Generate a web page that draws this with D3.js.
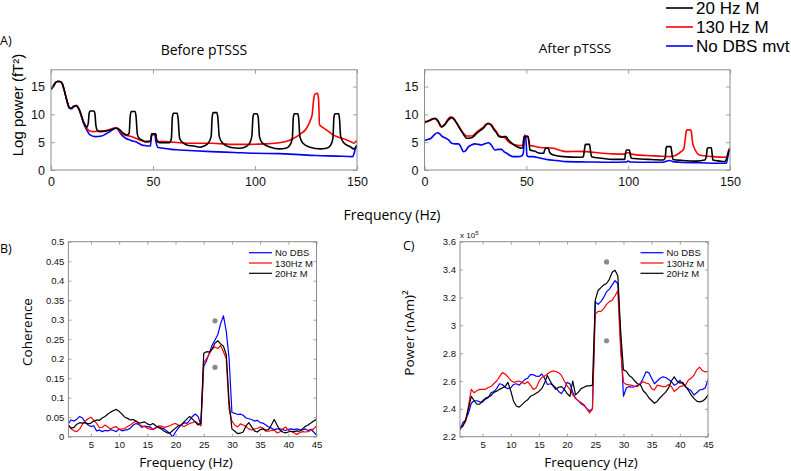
<!DOCTYPE html>
<html><head><meta charset="utf-8">
<script src="https://cdn.jsdelivr.net/npm/d3@7"></script>
<style>body{margin:0;background:#fff}svg{display:block}</style>
</head><body><svg id="c" width="791" height="471"></svg>
<script>
// ---------- DATA ----------
const seriesA = ["20 Hz M", "130 Hz M", "No DBS mvt"];
const seriesBC = ["No DBS", "130Hz M", "20Hz M"];
const xTicksA = [0, 50, 100, 150];
const yTicksA = [0, 5, 10, 15];
const xTicksBC = [5, 10, 15, 20, 25, 30, 35, 40, 45];
const yTicksB = [0, 0.05, 0.1, 0.15, 0.2, 0.25, 0.3, 0.35, 0.4, 0.45, 0.5];
const yTicksC = [2.2, 2.4, 2.6, 2.8, 3, 3.2, 3.4, 3.6];

// Panel A, before pTSSS: [frequency, log power]
const beforeBlack = [[0,14.5],[1,15.0],[2,15.6],[3,15.9],[4.4,15.9],[5.5,15.5],[6.5,14.3],[7.7,12.6],[9,11.2],[10,11.1],[11,11.4],[12.3,11.6],[13,11.4],[13.9,10.8],[15,9.7],[15.8,8.7],[16.8,8.0],[17.6,7.7],[18.3,8.5],[18.7,10.2],[19.2,10.6],[21,10.6],[21.5,10.2],[22,8.0],[22.6,7.2],[24,6.9],[27.2,7.0],[30,7.3],[31.5,7.5],[32.5,7.5],[34,7.1],[35.5,6.6],[37.3,6.3],[38.3,6.6],[38.8,9.5],[39.3,10.5],[41.2,10.5],[41.7,9.6],[42.3,6.5],[43,5.8],[45,5.3],[46.3,5.1],[48,5.1],[49,5.4],[49.4,6.5],[51.3,6.5],[51.8,5.4],[52.5,5.0],[54,4.9],[56,4.9],[58,4.9],[59,5.6],[59.5,9.5],[60,10.2],[61.8,10.2],[62.3,9.3],[63,5.8],[64,5.1],[66.5,4.5],[70,4.3],[73,4.1],[75,4.3],[77,4.8],[78.5,6.0],[79,9.5],[79.5,10.3],[81.3,10.3],[81.8,9.4],[82.5,6.0],[84,4.9],[87.7,4.1],[92.6,3.9],[96,4.3],[97.5,4.9],[98.5,6.2],[99,9.5],[99.5,10.1],[101,10.1],[101.6,9.4],[102.2,6.0],[103.5,4.9],[107.6,4.1],[112,3.8],[115,3.9],[117,4.4],[118.3,5.7],[118.8,9.5],[119.3,10.1],[121,10.1],[121.4,9.3],[122,6.0],[123.5,4.8],[127,4.1],[131.9,3.8],[135,3.9],[137,4.4],[138.2,5.7],[138.7,9.5],[139.2,10.1],[141,10.1],[141.4,9.3],[142,6.0],[143.5,4.9],[146.6,4.2],[148.5,3.8],[149.3,4.1],[150,4.5]];
const beforeRed = [[0,14.5],[1,15.0],[2,15.6],[3,15.9],[4.4,15.9],[5.5,15.5],[6.5,14.3],[7.7,12.6],[9,11.2],[10,11.1],[11,11.4],[12.3,11.6],[13,11.4],[13.9,10.8],[15,9.6],[16,8.6],[17,7.9],[18,7.3],[19,7.0],[21,6.9],[24,7.0],[27,7.1],[30,7.4],[31.5,7.6],[32.5,7.5],[34,6.9],[36,6.3],[38.5,6.1],[41,5.8],[43.5,5.4],[46,5.1],[48,5.1],[49,5.4],[49.4,6.5],[51.3,6.5],[51.8,5.4],[53,5.1],[56,5.1],[63,4.9],[70,4.8],[78.6,4.8],[90,4.6],[96,4.6],[105,4.7],[112,4.9],[116,5.2],[119,5.7],[122,6.4],[125.3,7.5],[127,8.8],[128,9.9],[128.7,12.5],[129.3,13.6],[130.7,13.8],[131.2,12.5],[131.6,8.2],[133,7.7],[135,7.2],[137.5,6.5],[140,6.0],[142.5,5.7],[145,5.4],[147.5,5.0],[148.5,4.8],[149.3,5.1],[150,5.2]];
const beforeBlue = [[0,14.5],[1,15.0],[2,15.6],[3,15.9],[4.4,15.9],[5.5,15.5],[6.5,14.3],[7.7,12.6],[9,11.1],[10,11.0],[11,11.3],[12.3,11.5],[13,11.3],[13.9,10.7],[15,9.5],[16.3,8.1],[17.5,7.2],[19.1,6.3],[21.6,6.0],[24.8,6.1],[27,6.5],[28.9,6.9],[30.5,7.3],[31.9,7.5],[33,7.2],[34,6.6],[35.5,6.0],[37,5.6],[38.7,5.4],[40,5.2],[41.2,5.1],[43,4.8],[44.5,4.5],[46,4.4],[48.1,4.3],[48.8,4.4],[49.2,6.3],[50.8,6.4],[51.5,5.0],[52.3,4.1],[55,3.9],[59,3.7],[63,3.6],[70,3.45],[78.6,3.3],[90,3.15],[100,3.0],[112,2.95],[120,2.8],[130,2.6],[140,2.5],[147.8,2.4],[148.6,3.0],[149.3,3.9],[150,4.1]];

// Panel A, after pTSSS
const afterBlack = [[0,8.6],[0.8,8.7],[2.8,9.0],[4,9.2],[5.2,9.3],[6,9.1],[6.9,8.7],[8,7.9],[8.5,7.8],[9.5,8.0],[10.1,8.2],[11.5,8.9],[12.6,9.3],[13.4,9.4],[14.5,9.1],[15.8,8.4],[17,7.6],[18.3,6.9],[19.5,6.2],[20.7,5.7],[23.2,5.8],[25.6,6.6],[27,7.0],[28.9,7.5],[30,8.0],[31.4,8.3],[33,7.9],[34,7.3],[35.5,6.6],[36.5,6.0],[37.9,5.9],[39,6.0],[40,6.0],[41,5.5],[42,5.1],[43.5,4.6],[45.3,4.2],[47.7,3.9],[48.4,4.2],[48.8,5.8],[49.2,6.0],[50.8,6.0],[51.2,5.3],[51.8,3.6],[54,3.4],[56.7,3.0],[58.5,3.0],[59,3.6],[59.5,3.9],[60.8,3.9],[61.5,3.1],[63.3,2.7],[68.2,2.4],[76.3,2.3],[78,2.4],[78.5,3.6],[79,4.6],[81,4.6],[81.5,3.5],[82,2.4],[87,2.1],[92.6,1.9],[98.3,1.9],[98.7,3.0],[99.1,3.6],[100.6,3.6],[101,2.8],[101.6,2.1],[110,1.9],[117.2,1.8],[118.2,2.2],[118.6,3.9],[119,4.2],[121,4.2],[121.4,3.2],[122,1.9],[127,1.7],[133.5,1.6],[137.6,1.8],[138.4,2.5],[138.8,3.8],[139.2,4.0],[140.8,4.0],[141.2,3.0],[141.6,1.8],[145,1.6],[147.3,1.5],[148.5,2.2],[149.5,3.5],[150,3.6]];
const afterRed = [[0,8.5],[0.8,8.6],[2.8,8.9],[4,9.1],[5.2,9.2],[6,9.0],[6.9,8.5],[8,7.8],[8.5,7.7],[9.5,8.0],[10.1,8.3],[11.5,9.1],[12.6,9.5],[13.4,9.5],[14.5,9.2],[15.8,8.5],[17,7.8],[18.3,7.0],[19.5,6.4],[20.7,6.1],[23.2,6.1],[25.6,6.8],[27,7.2],[28.9,7.7],[30,8.2],[31.4,8.4],[33,8.1],[34,7.5],[35.5,6.8],[36.5,6.2],[37.9,6.0],[39,5.9],[40,5.6],[41,5.2],[42,4.9],[45,4.5],[47.7,4.4],[48.4,4.6],[48.8,5.9],[49.2,6.1],[50.8,6.1],[51.2,5.4],[51.8,4.4],[53.4,4.3],[58,4.0],[60,4.0],[63.3,3.9],[66,3.6],[69.8,3.3],[75,3.35],[79.6,3.3],[85,3.1],[92.6,2.9],[98,2.85],[99.5,3.1],[100.5,3.1],[101.5,2.85],[109,2.6],[115,2.5],[120.4,2.4],[123.7,2.7],[126,3.3],[127.3,3.8],[128,5.5],[128.5,6.9],[129,7.2],[130.5,7.2],[131,6.9],[131.6,5.0],[132.2,4.2],[133.5,3.2],[135,2.7],[141.6,2.4],[148.2,2.3],[149,3.0],[149.5,3.7],[150,3.9]];
const afterBlue = [[0,5.3],[0.8,5.4],[2.8,5.6],[4,6.0],[5,6.4],[6.4,6.7],[7.5,6.5],[8.5,6.1],[10,5.8],[11.8,5.4],[13.4,4.8],[15,4.7],[16.7,4.7],[17.8,4.2],[19.1,3.3],[20,3.4],[21.6,4.2],[23,4.5],[24.8,4.7],[26.5,4.6],[28.1,4.5],[29.5,4.7],[31.4,4.9],[32.5,4.6],[34.6,3.6],[36,3.7],[37.9,3.7],[39,3.3],[40.4,3.0],[42,2.6],[43.6,2.4],[46,2.4],[47.7,2.5],[48.5,3.0],[49.2,6.3],[49.8,5.5],[50.3,2.6],[51,2.4],[53.4,2.4],[56,2.2],[60,1.9],[65,1.7],[69.8,1.5],[80,1.45],[90,1.4],[99,1.45],[100,1.6],[101,1.45],[110,1.4],[117,1.4],[120.4,1.7],[122,1.5],[125.2,1.4],[135,1.3],[148.2,1.2],[149,2.5],[149.7,3.5],[150,3.6]];

// Panels B & C: frequency grid 1..45 Hz, step 0.5 Hz
const freqBC = d3.range(1, 45.001, 0.5);
const cohBlue = [0.034,0.043,0.04,0.045,0.052,0.048,0.036,0.03,0.026,0.028,
 0.015,0.017,0.013,0.016,0.015,0.018,0.016,0.013,0.02,0.015,
 0.017,0.018,0.022,0.03,0.034,0.031,0.024,0.027,0.026,0.025,
 0.018,0.024,0.026,0.022,0.02,0.014,0.008,0.0,0.012,0.022,
 0.03,0.036,0.034,0.042,0.052,0.058,0.052,0.03,0.18,0.195,
 0.215,0.235,0.248,0.262,0.29,0.31,0.27,0.2,0.062,0.06,
 0.057,0.058,0.055,0.048,0.046,0.044,0.04,0.042,0.036,0.035,
 0.03,0.025,0.022,0.018,0.02,0.02,0.018,0.016,0.019,0.02,
 0.018,0.02,0.018,0.017,0.02,0.016,0.019,0.012,0.004];
const cohRed = [0.028,0.02,0.015,0.013,0.02,0.032,0.04,0.046,0.05,0.042,
 0.034,0.023,0.024,0.03,0.025,0.02,0.024,0.026,0.018,0.02,
 0.021,0.026,0.03,0.036,0.04,0.032,0.028,0.026,0.022,0.019,
 0.02,0.022,0.028,0.027,0.024,0.026,0.028,0.032,0.034,0.03,
 0.029,0.026,0.03,0.034,0.036,0.039,0.034,0.028,0.19,0.2,
 0.212,0.225,0.23,0.226,0.234,0.218,0.2,0.07,0.04,0.03,
 0.025,0.033,0.03,0.026,0.02,0.017,0.02,0.021,0.025,0.022,
 0.014,0.014,0.016,0.017,0.01,0.012,0.02,0.025,0.016,0.013,
 0.01,0.006,0.01,0.013,0.012,0.013,0.016,0.02,0.028];
const cohBlack = [0.03,0.022,0.024,0.032,0.036,0.035,0.036,0.033,0.035,0.04,
 0.043,0.042,0.048,0.052,0.058,0.063,0.067,0.07,0.065,0.058,
 0.05,0.047,0.043,0.044,0.04,0.035,0.036,0.038,0.033,0.03,
 0.034,0.028,0.023,0.02,0.014,0.01,0.009,0.016,0.022,0.028,
 0.03,0.038,0.045,0.052,0.045,0.038,0.03,0.035,0.214,0.218,
 0.217,0.225,0.24,0.246,0.238,0.232,0.21,0.09,0.02,0.014,
 0.008,0.009,0.012,0.028,0.036,0.025,0.015,0.012,0.018,0.02,
 0.017,0.018,0.03,0.044,0.03,0.017,0.012,0.01,0.012,0.014,
 0.013,0.015,0.014,0.02,0.026,0.03,0.035,0.04,0.045];
const cohDots = [[27, 0.297], [27, 0.178]];

const powBlue = [2.248,2.3,2.32,2.37,2.44,2.458,2.458,2.45,2.448,2.47,
 2.48,2.515,2.525,2.545,2.58,2.575,2.555,2.545,2.55,2.575,
 2.58,2.57,2.59,2.61,2.62,2.645,2.645,2.635,2.632,2.65,
 2.62,2.575,2.58,2.57,2.55,2.525,2.51,2.54,2.59,2.58,
 2.52,2.475,2.457,2.435,2.425,2.4,2.385,2.4,3.17,3.15,
 3.17,3.2,3.24,3.26,3.29,3.32,3.3,2.9,2.49,2.55,
 2.56,2.555,2.56,2.57,2.58,2.62,2.665,2.66,2.62,2.58,
 2.6,2.62,2.63,2.625,2.61,2.595,2.57,2.58,2.605,2.58,
 2.56,2.545,2.53,2.5,2.515,2.535,2.54,2.55,2.61];
const powRed = [2.27,2.28,2.31,2.42,2.54,2.515,2.53,2.54,2.54,2.54,
 2.553,2.56,2.58,2.6,2.63,2.66,2.65,2.63,2.605,2.59,
 2.595,2.6,2.59,2.58,2.595,2.57,2.54,2.55,2.595,2.625,
 2.635,2.65,2.665,2.672,2.668,2.66,2.64,2.6,2.565,2.54,
 2.5,2.475,2.457,2.445,2.43,2.4,2.37,2.4,3.08,3.1,
 3.1,3.12,3.15,3.17,3.18,3.21,3.25,2.82,2.59,2.575,
 2.572,2.568,2.562,2.56,2.58,2.595,2.585,2.58,2.545,2.535,
 2.57,2.565,2.56,2.56,2.575,2.56,2.525,2.54,2.56,2.565,
 2.57,2.605,2.62,2.64,2.68,2.7,2.675,2.665,2.668];
const powBlack = [2.258,2.275,2.32,2.4,2.49,2.46,2.433,2.433,2.458,2.475,
 2.485,2.495,2.518,2.527,2.54,2.55,2.56,2.59,2.53,2.455,
 2.42,2.412,2.43,2.45,2.465,2.49,2.5,2.512,2.525,2.545,
 2.585,2.64,2.6,2.565,2.54,2.555,2.56,2.54,2.51,2.49,
 2.6,2.5,2.52,2.545,2.555,2.565,2.565,2.57,3.18,3.25,
 3.27,3.29,3.3,3.33,3.38,3.395,3.355,2.96,2.68,2.67,
 2.64,2.625,2.6,2.58,2.575,2.53,2.51,2.48,2.46,2.44,
 2.455,2.48,2.5,2.52,2.55,2.6,2.63,2.6,2.585,2.59,
 2.56,2.535,2.5,2.475,2.455,2.45,2.455,2.47,2.5];
const powDots = [[27, 3.455], [27, 2.889]];

// ---------- DRAWING ----------
const svg = d3.select("#c");
const COL = {black: "#000000", red: "#ff0000", blue: "#0000ff"};
const FRAME = "#8c8c8c";
const titleFont = "'Open Sans', Lato, sans-serif";
const tickFont = "'Liberation Sans', Arial, sans-serif";

function frameAxes(g, x, y, xt, yt, opts) {
  const [x0, x1] = x.range(), [y0, y1] = y.range();
  const tl = opts.tick;
  const fmt = opts.yfmt || (d => d);
  const bx = g.append("g").attr("transform", `translate(0,${y0})`)
    .call(d3.axisBottom(x).tickValues(xt).tickSizeInner(-tl).tickSizeOuter(0).tickPadding(opts.xpad));
  const tx = g.append("g").attr("transform", `translate(0,${y1})`)
    .call(d3.axisTop(x).tickValues(xt).tickSizeInner(-tl).tickSizeOuter(0).tickFormat(""));
  const ly = g.append("g").attr("transform", `translate(${x0},0)`)
    .call(d3.axisLeft(y).tickValues(yt).tickSizeInner(-tl).tickSizeOuter(0).tickPadding(opts.ypad).tickFormat(fmt));
  const ry = g.append("g").attr("transform", `translate(${x1},0)`)
    .call(d3.axisRight(y).tickValues(yt).tickSizeInner(-tl).tickSizeOuter(0).tickFormat(""));
  [bx, tx, ly, ry].forEach(a => {
    a.select(".domain").remove();
    a.selectAll(".tick line").attr("stroke", FRAME).attr("stroke-width", 0.8);
    a.selectAll("text").attr("font-family", tickFont).attr("font-size", opts.fs).attr("fill", "#111");
  });
  g.append("rect").attr("x", x0).attr("y", y1).attr("width", x1 - x0).attr("height", y0 - y1)
    .attr("fill", "none").attr("stroke", FRAME).attr("stroke-width", 1);
}

// Panel A
const yA = d3.scaleLinear().domain([0, 18]).range([170, 69.8]);
const xAL = d3.scaleLinear().domain([0, 150]).range([51, 357]);
const xAR = d3.scaleLinear().domain([0, 150]).range([424.5, 730]);
const lineGen = (x, y) => d3.line().x(d => x(d[0])).y(d => y(d[1])).curve(d3.curveMonotoneX);

function panelA(x, sets) {
  const g = svg.append("g");
  const clip = "clip" + Math.round(x.range()[0]);
  svg.append("clipPath").attr("id", clip).append("rect")
    .attr("x", x.range()[0]).attr("y", yA.range()[1]).attr("width", x.range()[1] - x.range()[0]).attr("height", yA.range()[0] - yA.range()[1]);
  const lg = g.append("g").attr("clip-path", `url(#${clip})`);
  sets.forEach(s => lg.append("path").datum(s.data).attr("d", lineGen(x, yA)(s.data))
    .attr("fill", "none").attr("stroke", s.color).attr("stroke-width", 1.6).attr("stroke-linejoin", "round"));
  frameAxes(g, x, yA, xTicksA, yTicksA, {tick: 4, fs: 12.5, xpad: 7, ypad: 6});
}
panelA(xAL, [{data: beforeBlue, color: COL.blue}, {data: beforeRed, color: COL.red}, {data: beforeBlack, color: COL.black}]);
panelA(xAR, [{data: afterBlue, color: COL.blue}, {data: afterRed, color: COL.red}, {data: afterBlack, color: COL.black}]);

svg.append("text").attr("x", 204).attr("y", 55).attr("text-anchor", "middle")
  .attr("font-family", titleFont).attr("font-size", 14).text("Before pTSSS");
svg.append("text").attr("x", 575).attr("y", 53).attr("text-anchor", "middle")
  .attr("font-family", titleFont).attr("font-size", 13.5).text("After pTSSS");
svg.append("text").attr("x", 0).attr("y", 45)
  .attr("font-family", titleFont).attr("font-size", 12.5).text("A)");
svg.append("text").attr("transform", "translate(23,105) rotate(-90)").attr("text-anchor", "middle")
  .attr("font-family", tickFont).attr("font-size", 15).text("Log power (fT²)");
svg.append("text").attr("x", 392).attr("y", 220).attr("text-anchor", "middle")
  .attr("font-family", titleFont).attr("font-size", 14).text("Frequency (Hz)");

// Legend A
const legA = [{n: seriesA[0], c: COL.black}, {n: seriesA[1], c: COL.red}, {n: seriesA[2], c: COL.blue}];
legA.forEach((d, i) => {
  const yy = 8 + i * 19;
  svg.append("line").attr("x1", 666).attr("x2", 693).attr("y1", yy).attr("y2", yy)
    .attr("stroke", d.c).attr("stroke-width", 1.6);
  svg.append("text").attr("x", 696).attr("y", yy + 6).attr("font-family", tickFont)
    .attr("font-size", 17).text(d.n);
});

// Panels B and C
function panelBC(x, y, yt, fmt, series, dots, legX) {
  const g = svg.append("g");
  const clip = "clip" + Math.round(x.range()[0]);
  svg.append("clipPath").attr("id", clip).append("rect")
    .attr("x", x.range()[0]).attr("y", y.range()[1]).attr("width", x.range()[1] - x.range()[0]).attr("height", y.range()[0] - y.range()[1]);
  const lg = g.append("g").attr("clip-path", `url(#${clip})`);
  const ln = d3.line().x((d, i) => x(freqBC[i])).y(d => y(d));
  series.forEach(s => lg.append("path").attr("d", ln(s.vals))
    .attr("fill", "none").attr("stroke", s.color).attr("stroke-width", 1.2).attr("stroke-linejoin", "round"));
  g.selectAll("circle.dot").data(dots).enter().append("circle")
    .attr("cx", d => x(d[0])).attr("cy", d => y(d[1])).attr("r", 2.6).attr("fill", "#8a8a8a");
  frameAxes(g, x, y, xTicksBC, yt, {tick: 3, fs: 9.5, xpad: 5, ypad: 4, yfmt: fmt});
  series.forEach((s, i) => {
    const yy = y.range()[1] + 11 + i * 10.3;
    g.append("line").attr("x1", legX).attr("x2", legX + 23).attr("y1", yy).attr("y2", yy)
      .attr("stroke", s.color).attr("stroke-width", 1.2);
    g.append("text").attr("x", legX + 26).attr("y", yy + 3.5).attr("font-family", tickFont)
      .attr("font-size", 9.5).attr("fill", "#111").text(s.name);
  });
}
const xB = d3.scaleLinear().domain([1, 45]).range([68.4, 316.5]);
const yB = d3.scaleLinear().domain([0, 0.5]).range([436.7, 241.7]);
panelBC(xB, yB, yTicksB, d => String(+d.toFixed(2)),
  [{name: seriesBC[0], vals: cohBlue, color: COL.blue}, {name: seriesBC[1], vals: cohRed, color: COL.red}, {name: seriesBC[2], vals: cohBlack, color: COL.black}],
  cohDots, 249);
const xC = d3.scaleLinear().domain([1, 45]).range([460, 708]);
const yC = d3.scaleLinear().domain([2.2, 3.6]).range([436.7, 241.7]);
panelBC(xC, yC, yTicksC, d => String(+d.toFixed(1)),
  [{name: seriesBC[0], vals: powBlue, color: COL.blue}, {name: seriesBC[1], vals: powRed, color: COL.red}, {name: seriesBC[2], vals: powBlack, color: COL.black}],
  powDots, 640.5);

svg.append("text").attr("x", 0).attr("y", 253).attr("font-family", titleFont).attr("font-size", 12.5).text("B)");
svg.append("text").attr("x", 403).attr("y", 250).attr("font-family", titleFont).attr("font-size", 12.5).text("C)");
svg.append("text").attr("transform", "translate(32,332) rotate(-90)").attr("text-anchor", "middle")
  .attr("font-family", titleFont).attr("font-size", 13.5).text("Coherence");
svg.append("text").attr("transform", "translate(414,333) rotate(-90)").attr("text-anchor", "middle")
  .attr("font-family", titleFont).attr("font-size", 13.5).text("Power (nAm)²");
svg.append("text").attr("x", 186).attr("y", 467).attr("text-anchor", "middle")
  .attr("font-family", titleFont).attr("font-size", 13.5).text("Frequency (Hz)");
svg.append("text").attr("x", 591).attr("y", 467).attr("text-anchor", "middle")
  .attr("font-family", titleFont).attr("font-size", 13.5).text("Frequency (Hz)");
const ex = svg.append("text").attr("x", 460).attr("y", 238).attr("font-family", tickFont).attr("font-size", 8).attr("fill", "#111");
ex.append("tspan").text("x 10");
ex.append("tspan").attr("dy", -3).attr("font-size", 6).text("5");
</script></body></html>
